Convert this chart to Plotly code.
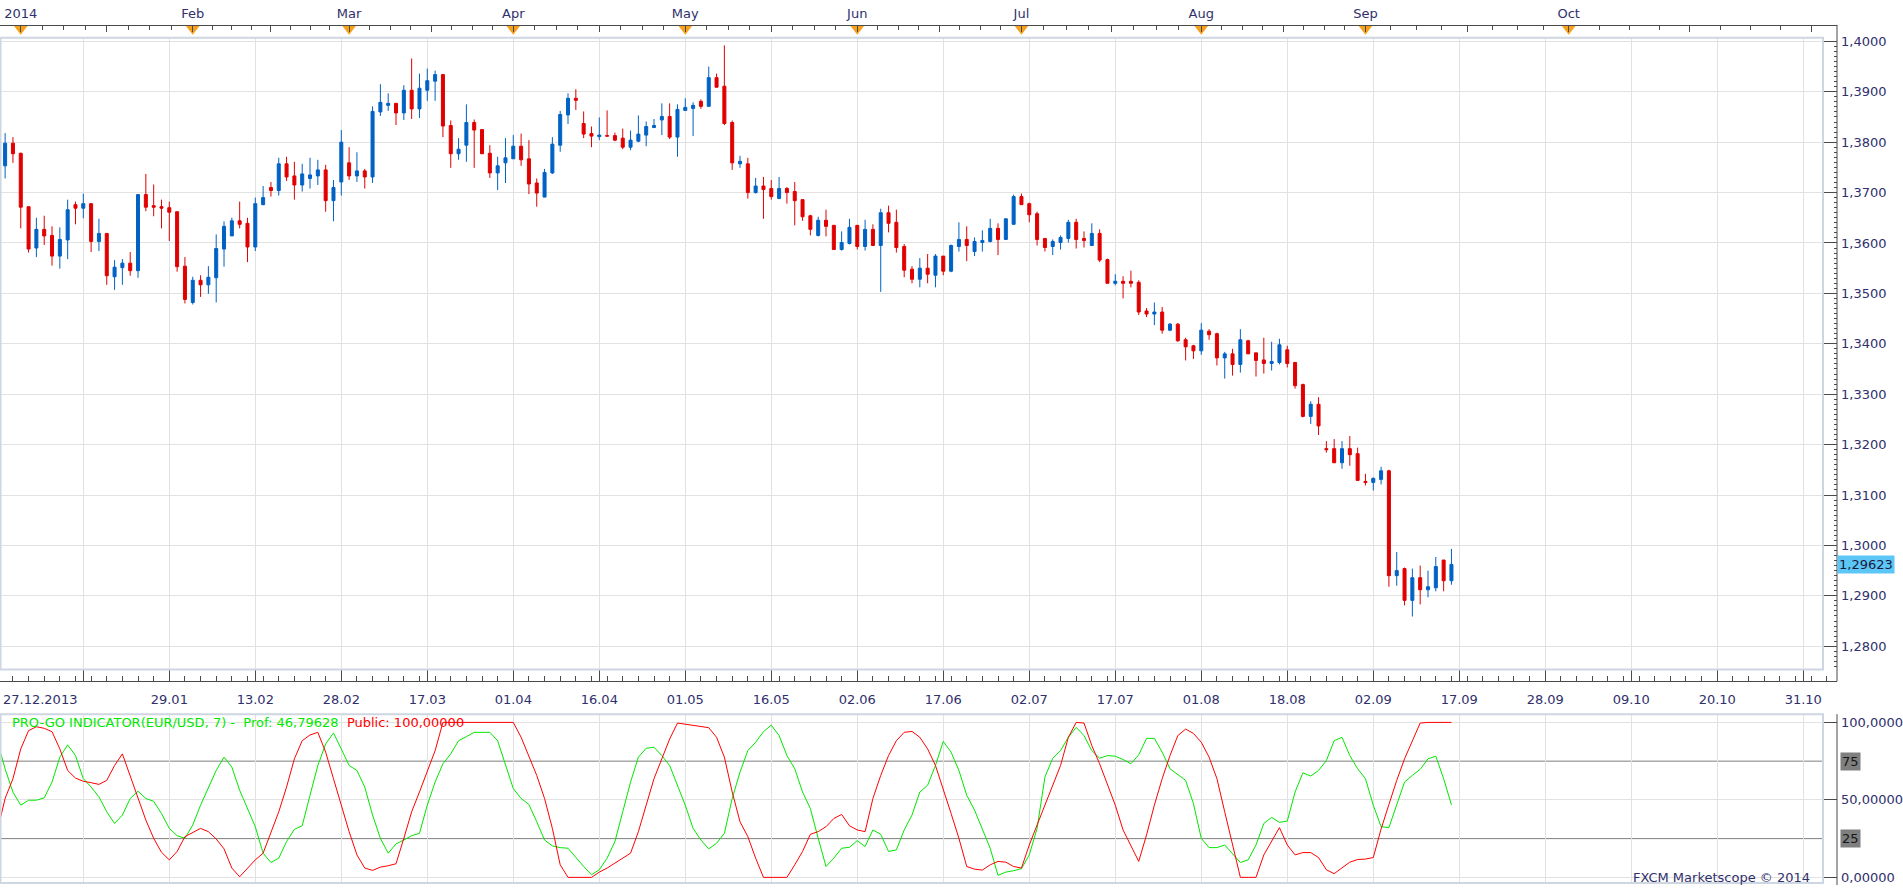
import plotly.graph_objects as go

W, H = 1903, 889

# ---------------- data ----------------
# bar index: 0 = 27.12.2013, one bar per weekday (1 Jan skipped)
bar_index = list(range(1, 187))
opens = [1.3753, 1.3798, 1.3778, 1.3672, 1.3590, 1.3627, 1.3615, 1.3574, 1.3606, 1.3676,
         1.3669, 1.3678, 1.3603, 1.3619, 1.3533, 1.3551, 1.3560, 1.3545, 1.3696, 1.3674,
         1.3672, 1.3670, 1.3662, 1.3554, 1.3482, 1.3526, 1.3517, 1.3531, 1.3588, 1.3614,
         1.3644, 1.3639, 1.3592, 1.3676, 1.3710, 1.3704, 1.3757, 1.3733, 1.3715, 1.3728,
         1.3733, 1.3745, 1.3684, 1.3721, 1.3759, 1.3733, 1.3743, 1.3731, 1.3860, 1.3873,
         1.3877, 1.3858, 1.3903, 1.3866, 1.3903, 1.3921, 1.3934, 1.3833, 1.3777, 1.3794,
         1.3839, 1.3825, 1.3778, 1.3739, 1.3759, 1.3767, 1.3792, 1.3767, 1.3719, 1.3691,
         1.3739, 1.3794, 1.3854, 1.3887, 1.3837, 1.3817, 1.3811, 1.3813, 1.3813, 1.3808,
         1.3790, 1.3802, 1.3814, 1.3829, 1.3844, 1.3851, 1.3810, 1.3863, 1.3867, 1.3881,
         1.3871, 1.3928, 1.3911, 1.3839, 1.3757, 1.3757, 1.3700, 1.3713, 1.3708, 1.3688,
         1.3708, 1.3702, 1.3686, 1.3654, 1.3615, 1.3645, 1.3635, 1.3587, 1.3599, 1.3635,
         1.3593, 1.3627, 1.3595, 1.3660, 1.3641, 1.3593, 1.3548, 1.3528, 1.3550, 1.3536,
         1.3574, 1.3544, 1.3593, 1.3607, 1.3583, 1.3601, 1.3603, 1.3629, 1.3607, 1.3637,
         1.3692, 1.3678, 1.3658, 1.3609, 1.3593, 1.3601, 1.3609, 1.3641, 1.3609, 1.3595,
         1.3619, 1.3567, 1.3520, 1.3524, 1.3524, 1.3522, 1.3465, 1.3459, 1.3463, 1.3427,
         1.3439, 1.3408, 1.3396, 1.3386, 1.3425, 1.3420, 1.3372, 1.3380, 1.3359, 1.3406,
         1.3382, 1.3368, 1.3361, 1.3363, 1.3388, 1.3363, 1.3319, 1.3256, 1.3280, 1.3192,
         1.3192, 1.3164, 1.3192, 1.3182, 1.3127, 1.3125, 1.3131, 1.3148, 1.2940, 1.2954,
         1.2891, 1.2936, 1.2912, 1.2916, 1.2971, 1.2930]
highs = [1.3818, 1.3810, 1.3779, 1.3672, 1.3650, 1.3654, 1.3633, 1.3631, 1.3686, 1.3682,
         1.3698, 1.3678, 1.3648, 1.3619, 1.3566, 1.3568, 1.3582, 1.3696, 1.3737, 1.3716,
         1.3686, 1.3682, 1.3662, 1.3572, 1.3533, 1.3536, 1.3554, 1.3617, 1.3643, 1.3650,
         1.3682, 1.3650, 1.3690, 1.3713, 1.3721, 1.3769, 1.3771, 1.3761, 1.3757, 1.3769,
         1.3765, 1.3755, 1.3725, 1.3824, 1.3790, 1.3780, 1.3747, 1.3871, 1.3915, 1.3897,
         1.3877, 1.3913, 1.3966, 1.3936, 1.3946, 1.3942, 1.3934, 1.3843, 1.3808, 1.3875,
         1.3845, 1.3825, 1.3794, 1.3771, 1.3808, 1.3814, 1.3817, 1.3804, 1.3728, 1.3747,
         1.3810, 1.3862, 1.3897, 1.3905, 1.3861, 1.3831, 1.3849, 1.3863, 1.3819, 1.3827,
         1.3823, 1.3853, 1.3841, 1.3846, 1.3877, 1.3877, 1.3875, 1.3887, 1.3879, 1.3885,
         1.3950, 1.3936, 1.3992, 1.3843, 1.3773, 1.3769, 1.3729, 1.3731, 1.3725, 1.3731,
         1.3711, 1.3721, 1.3686, 1.3656, 1.3652, 1.3666, 1.3635, 1.3623, 1.3648, 1.3635,
         1.3646, 1.3637, 1.3668, 1.3674, 1.3666, 1.3598, 1.3554, 1.3570, 1.3578, 1.3578,
         1.3574, 1.3597, 1.3641, 1.3633, 1.3611, 1.3625, 1.3648, 1.3639, 1.3648, 1.3696,
         1.3698, 1.3680, 1.3662, 1.3609, 1.3607, 1.3615, 1.3646, 1.3648, 1.3623, 1.3639,
         1.3627, 1.3569, 1.3538, 1.3534, 1.3545, 1.3526, 1.3471, 1.3482, 1.3473, 1.3441,
         1.3441, 1.3412, 1.3398, 1.3441, 1.3429, 1.3422, 1.3384, 1.3390, 1.3429, 1.3408,
         1.3382, 1.3412, 1.3404, 1.3410, 1.3396, 1.3363, 1.3321, 1.3286, 1.3294, 1.3207,
         1.3211, 1.3207, 1.3217, 1.3194, 1.3142, 1.3135, 1.3156, 1.3150, 1.2987, 1.2956,
         1.2954, 1.2960, 1.2950, 1.2977, 1.2971, 1.2993]
lows = [1.3728, 1.3759, 1.3629, 1.3581, 1.3572, 1.3596, 1.3555, 1.3549, 1.3568, 1.3637,
        1.3649, 1.3582, 1.3584, 1.3517, 1.3507, 1.3517, 1.3535, 1.3531, 1.3663, 1.3653,
        1.3629, 1.3604, 1.3543, 1.3480, 1.3478, 1.3493, 1.3499, 1.3482, 1.3553, 1.3614,
        1.3629, 1.3562, 1.3584, 1.3675, 1.3692, 1.3694, 1.3723, 1.3686, 1.3702, 1.3708,
        1.3715, 1.3662, 1.3643, 1.3694, 1.3725, 1.3721, 1.3708, 1.3719, 1.3852, 1.3862,
        1.3834, 1.3844, 1.3846, 1.3848, 1.3882, 1.3882, 1.3810, 1.3749, 1.3765, 1.3761,
        1.3749, 1.3777, 1.3729, 1.3705, 1.3719, 1.3767, 1.3753, 1.3697, 1.3672, 1.3691,
        1.3737, 1.3781, 1.3836, 1.3864, 1.3808, 1.3790, 1.3804, 1.3812, 1.3802, 1.3786,
        1.3784, 1.3800, 1.3792, 1.3828, 1.3814, 1.3806, 1.3771, 1.3863, 1.3812, 1.3866,
        1.3871, 1.3909, 1.3834, 1.3745, 1.3749, 1.3688, 1.3698, 1.3648, 1.3686, 1.3688,
        1.3678, 1.3635, 1.3644, 1.3615, 1.3613, 1.3613, 1.3587, 1.3585, 1.3597, 1.3587,
        1.3585, 1.3595, 1.3503, 1.3621, 1.3581, 1.3532, 1.3520, 1.3512, 1.3520, 1.3512,
        1.3536, 1.3542, 1.3583, 1.3564, 1.3574, 1.3583, 1.3601, 1.3576, 1.3607, 1.3637,
        1.3676, 1.3641, 1.3595, 1.3583, 1.3576, 1.3587, 1.3601, 1.3589, 1.3591, 1.3595,
        1.3562, 1.3520, 1.3516, 1.3490, 1.3512, 1.3457, 1.3453, 1.3437, 1.3420, 1.3425,
        1.3404, 1.3367, 1.3370, 1.3378, 1.3408, 1.3357, 1.3331, 1.3337, 1.3343, 1.3380,
        1.3335, 1.3341, 1.3347, 1.3359, 1.3353, 1.3311, 1.3254, 1.3241, 1.3219, 1.3184,
        1.3164, 1.3152, 1.3158, 1.3129, 1.3119, 1.3109, 1.3121, 1.2918, 1.2920, 1.2881,
        1.2859, 1.2883, 1.2897, 1.2909, 1.2909, 1.2922]
closes = [1.3798, 1.3777, 1.3671, 1.3588, 1.3627, 1.3614, 1.3574, 1.3607, 1.3666, 1.3669,
          1.3678, 1.3603, 1.3619, 1.3535, 1.3552, 1.3560, 1.3545, 1.3696, 1.3671, 1.3671,
          1.3669, 1.3661, 1.3553, 1.3488, 1.3526, 1.3517, 1.3532, 1.3589, 1.3633, 1.3644,
          1.3637, 1.3592, 1.3678, 1.3690, 1.3704, 1.3757, 1.3731, 1.3715, 1.3737, 1.3735,
          1.3745, 1.3684, 1.3710, 1.3800, 1.3733, 1.3743, 1.3731, 1.3861, 1.3879, 1.3877,
          1.3858, 1.3903, 1.3866, 1.3907, 1.3922, 1.3934, 1.3832, 1.3777, 1.3786, 1.3839,
          1.3824, 1.3777, 1.3739, 1.3753, 1.3769, 1.3792, 1.3765, 1.3717, 1.3699, 1.3740,
          1.3796, 1.3855, 1.3887, 1.3883, 1.3816, 1.3812, 1.3814, 1.3812, 1.3804, 1.3790,
          1.3804, 1.3816, 1.3831, 1.3833, 1.3851, 1.3810, 1.3865, 1.3869, 1.3873, 1.3871,
          1.3928, 1.3909, 1.3837, 1.3759, 1.3762, 1.3700, 1.3713, 1.3706, 1.3692, 1.3708,
          1.3700, 1.3684, 1.3652, 1.3627, 1.3645, 1.3633, 1.3587, 1.3601, 1.3631, 1.3593,
          1.3627, 1.3595, 1.3660, 1.3639, 1.3591, 1.3546, 1.3528, 1.3550, 1.3538, 1.3574,
          1.3544, 1.3595, 1.3607, 1.3595, 1.3603, 1.3605, 1.3629, 1.3607, 1.3648, 1.3692,
          1.3676, 1.3656, 1.3607, 1.3591, 1.3603, 1.3611, 1.3641, 1.3607, 1.3605, 1.3619,
          1.3566, 1.3520, 1.3524, 1.3520, 1.3520, 1.3463, 1.3459, 1.3463, 1.3427, 1.3439,
          1.3406, 1.3394, 1.3386, 1.3427, 1.3418, 1.3372, 1.3380, 1.3359, 1.3408, 1.3380,
          1.3367, 1.3361, 1.3365, 1.3398, 1.3361, 1.3317, 1.3256, 1.3280, 1.3237, 1.3190,
          1.3164, 1.3192, 1.3180, 1.3129, 1.3125, 1.3133, 1.3148, 1.2940, 1.2950, 1.2891,
          1.2936, 1.2912, 1.2918, 1.2958, 1.2930, 1.29623]

ind_index = list(range(0, 187))
prof = [88, 70, 55, 46.6, 49.8, 49.8, 51.3, 61.5, 77.6, 85.5,
        78.6, 63.7, 58.3, 52, 42.3, 34.8, 40.2, 50.9, 55.6, 50.9,
        49.1, 41.2, 31.6, 26.9, 25.2, 33.8, 46.6, 58.3, 69, 77.6,
        71.2, 56.2, 44.4, 32.7, 15.6, 9.6, 12.4, 23.1, 31, 33.3,
        53, 72.2, 86.1, 93.2, 82.9, 72.2, 69, 58.3, 40.2, 25.2,
        15.6, 21.6, 24.1, 26.9, 28.4, 46.6, 61.5, 73.3, 79.7, 88.2,
        90.8, 93.6, 93.6, 93.6, 88.2, 73.3, 57.3, 50.9, 47, 35.9,
        24.1, 20.3, 19.2, 18.8, 12.8, 7, 1.7, 4.9, 12.4, 23.1,
        42.3, 61.5, 77.6, 83.3, 84, 78.6, 72.2, 59.4, 46.6, 31.6,
        24.1, 18.4, 22, 28.4, 50.9, 67.9, 81.8, 87.2, 94, 98.3,
        91.5, 78.6, 70.1, 55.1, 44.4, 25.2, 7, 12.4, 18.8, 19.4,
        23.7, 19.9, 30.6, 27.8, 16.7, 17.7, 30.6, 40.2, 55.1, 59.4,
        72.2, 87.8, 80.8, 69, 53, 43.4, 30.6, 18.8, 1.3, 3.4,
        4.3, 5.6, 14.5, 31.6, 64.7, 76.9, 81.8, 90.4, 96.8, 91.5,
        81.8, 76.9, 78.6, 78.2, 76.1, 73.3, 79.1, 89.7, 89.7, 80.8,
        70.1, 66.2, 62.6, 47.6, 25.2, 19.2, 19.2, 20.9, 15.6, 9.6,
        11.3, 20.9, 34.8, 38.7, 35.5, 36.3, 55.1, 67.5, 65.4, 69,
        75.4, 88.2, 90.4, 78.6, 70.1, 63.7, 46.6, 32.7, 32.1, 46.6,
        61.5, 65.8, 69.7, 76.5, 78.2, 63.7, 46.79628]
public = [30, 50.9, 63.7, 82.9, 94.7, 97.2, 96.2, 94, 82.9, 69,
          64.1, 62, 61.1, 60, 62.6, 72.2, 79.7, 65.8, 50.9, 37,
          25.2, 16.2, 11.3, 16.7, 26.3, 29.1, 31.6, 29.5, 24.8, 18.4,
          6, 0.4, 5.6, 11.3, 15.6, 29.5, 42.3, 58.3, 76.5, 88.2,
          91.9, 93.6, 80.8, 63.7, 46.6, 29.5, 14.5, 6, 4.5, 6.6,
          7.5, 8.8, 25.2, 42.3, 55.1, 67.9, 81.8, 100, 100, 100,
          100, 100, 100, 100, 100, 100, 100, 90.4, 78.6, 65.8,
          50.9, 31.6, 8.1, 0, 0, 0, 0, 3.4, 6, 9.2,
          12.4, 15.6, 29.5, 46.6, 63.7, 76.5, 89.3, 99.6, 98.9, 97.9,
          97.4, 96.6, 90.4, 77.6, 55.1, 35.9, 26.3, 12.4, 0, 0,
          0, 0, 8.1, 16.7, 27.8, 29.5, 32.7, 38, 40.6, 33.3,
          30.6, 29.5, 50.9, 65.8, 78.6, 88.2, 93.6, 94.2, 90.4, 82.9,
          72.2, 57.3, 41.2, 25.2, 7, 5.3, 4.7, 8.1, 10.3, 9.8,
          7, 6, 20.9, 33.8, 46.6, 60.5, 72.2, 90.4, 100, 99.6,
          85, 73.3, 59.4, 46.6, 30.6, 20.9, 10.3, 27.4, 46.6, 63.7,
          78.6, 91.5, 95.7, 92.9, 87.2, 77.6, 63.7, 42.3, 20.9, 0,
          0, 0, 14.5, 23.1, 32.1, 20.9, 14.5, 16, 16, 12.8,
          4.9, 2.4, 6.4, 9.8, 11.5, 11.8, 12.8, 31.2, 47, 62.6,
          76.5, 87.6, 99.6, 100, 100, 100, 100]

price_ticks = [1.28, 1.29, 1.30, 1.31, 1.32, 1.33, 1.34, 1.35, 1.36, 1.37, 1.38, 1.39, 1.40]
price_labels = ["1,2800", "1,2900", "1,3000", "1,3100", "1,3200", "1,3300", "1,3400",
                "1,3500", "1,3600", "1,3700", "1,3800", "1,3900", "1,4000"]
grid_index = list(range(0, 232, 11))
date_tick_index = list(range(11, 232, 11))
date_tick_labels = ["", "29.01", "13.02", "28.02", "17.03", "01.04", "16.04", "01.05", "16.05",
                    "02.06", "17.06", "02.07", "17.07", "01.08", "18.08", "02.09", "17.09",
                    "28.09", "09.10", "20.10", "31.10"]
first_date_label = "27.12.2013"
month_bounds = [-18, 3, 25, 45, 66, 88, 110, 131, 154, 175, 201, 232, 262]
month_start_index = [3, 25, 45, 66, 88, 110, 131, 154, 175, 201]
month_labels = ["2014", "Feb", "Mar", "Apr", "May", "Jun", "Jul", "Aug", "Sep", "Oct"]
ind_ticks = [0, 50, 100]
ind_tick_labels = ["0,00000", "50,00000", "100,0000"]
ind_levels = [75, 25]
indicator_name = "PRO-GO INDICATOR(EUR/USD, 7)"
copyright_text = "FXCM Marketscope \u00a9 2014"

# ---------------- styling ----------------
BLUE = "#0062c4"
RED = "#e00000"
GRID = "#e2e2e2"
FRAME = "#cdd6e1"
AXIS = "#4a4a4a"
TXT = "#30306c"
GREEN_LINE = "#00e800"
RED_LINE = "#ff0000"
LEVEL = "#7f7f7f"
ORANGE = "#f7a11a"
PRICE_BOX = "#5cc6f6"
FONT = "DejaVu Sans"

BAR_PX = 7.818
X0_PX = -2.7
PLOT_R = 1823
AXIS_R = 1837


def ix(px):
    return (px - X0_PX) / BAR_PX


def py(p):
    return 1 - p / H


r0, r1, r1b = ix(0), ix(PLOT_R), ix(AXIS_R)

# price axis pixel calibration: 1.4000 at y=37.6, 50.75 px per 0.01
p_top = 1.40 + (37.6 - 34) / 5075
p_bot = 1.40 - (670 - 37.6) / 5075
# indicator calibration: 100 at y=723.3, 0 at y=879.3
v_top = (879.3 - 715) / 1.56
v_bot = (879.3 - 885) / 1.56

# top axis ticks: each month split in 8
label_map = dict(zip(month_start_index, month_labels))
top_major, top_major_text, top_minor = [], [], []
for a, b in zip(month_bounds[:-1], month_bounds[1:]):
    for k in range(8):
        v = a + k * (b - a) / 8
        if not (r0 <= v <= r1b):
            continue
        if k in (0, 4):
            top_major.append(v)
            top_major_text.append(label_map.get(a, "") if k == 0 else "")
        else:
            top_minor.append(v)

bottom_minor = [i for i in range(0, 236) if i % 11 != 0 and i % 2 == 0]

fig = go.Figure()
fig.add_trace(go.Candlestick(
    x=bar_index, open=opens, high=highs, low=lows, close=closes,
    xaxis="x", yaxis="y", whiskerwidth=0, showlegend=False, hoverinfo="skip",
    increasing=dict(line=dict(color=BLUE, width=1), fillcolor=BLUE),
    decreasing=dict(line=dict(color=RED, width=1), fillcolor=RED)))
fig.add_trace(go.Scatter(x=ind_index, y=prof, mode="lines", xaxis="x2", yaxis="y2",
                         line=dict(color=GREEN_LINE, width=1), showlegend=False, hoverinfo="skip"))
fig.add_trace(go.Scatter(x=ind_index, y=public, mode="lines", xaxis="x2", yaxis="y2",
                         line=dict(color=RED_LINE, width=1), showlegend=False, hoverinfo="skip"))
# month-start markers on the top band
fig.add_trace(go.Scatter(x=month_start_index, y=[0.67] * len(month_start_index), mode="markers",
                         xaxis="x5", yaxis="y5", cliponaxis=False,
                         marker=dict(symbol="triangle-down", size=12, color=ORANGE, line=dict(width=0)),
                         showlegend=False, hoverinfo="skip"))
# carrier for the date axis
fig.add_trace(go.Scatter(x=[None], y=[None], xaxis="x3", yaxis="y5", showlegend=False, hoverinfo="skip"))

tickfont = dict(family=FONT, size=13, color=TXT)

fig.update_layout(
    width=W, height=H, margin=dict(l=0, r=0, t=0, b=0),
    paper_bgcolor="white", plot_bgcolor="rgba(0,0,0,0)",
    showlegend=False, boxgap=0.45,
    xaxis=dict(domain=[0, PLOT_R / W], range=[r0, r1], anchor="y",
               tickmode="array", tickvals=grid_index, showticklabels=False, ticks="",
               showgrid=True, gridcolor=GRID, gridwidth=1, zeroline=False, showline=False,
               rangeslider=dict(visible=False), fixedrange=True),
    yaxis=dict(domain=[py(670), py(34)], range=[p_bot, p_top], anchor="free", position=AXIS_R / W,
               side="right", tickmode="array", tickvals=price_ticks, ticktext=price_labels,
               ticks="inside", ticklen=14, tickcolor=AXIS, tickwidth=1,
               showgrid=True, gridcolor=GRID, gridwidth=1, zeroline=False, showline=False,
               tickfont=tickfont, ticklabelstandoff=3,
               minor=dict(dtick=0.001, tick0=1.28, ticks="inside", ticklen=3, tickcolor=AXIS,
                          showgrid=False),
               fixedrange=True),
    xaxis2=dict(domain=[0, PLOT_R / W], range=[r0, r1], anchor="y2",
                tickmode="array", tickvals=grid_index, showticklabels=False, ticks="",
                showgrid=True, gridcolor=GRID, gridwidth=1, zeroline=False, showline=False,
                fixedrange=True),
    yaxis2=dict(domain=[py(885), py(715)], range=[v_bot, v_top], anchor="free", position=AXIS_R / W,
                side="right", tickmode="array", tickvals=ind_ticks, ticktext=ind_tick_labels,
                ticks="inside", ticklen=14, tickcolor=AXIS, tickwidth=1,
                showgrid=True, gridcolor=GRID, gridwidth=1, zeroline=False, showline=False,
                tickfont=tickfont, ticklabelstandoff=3, fixedrange=True),
    xaxis3=dict(domain=[0, AXIS_R / W], range=[r0, r1b], anchor="free", position=py(682),
                side="bottom", tickmode="array", tickvals=date_tick_index, ticktext=date_tick_labels,
                ticks="inside", ticklen=12, tickcolor=AXIS, tickwidth=1, tickangle=0,
                showline=True, linecolor=AXIS, linewidth=1, showgrid=False, zeroline=False,
                tickfont=tickfont, ticklabelstandoff=6,
                minor=dict(tickmode="array", tickvals=bottom_minor, ticks="inside", ticklen=5,
                           tickcolor=AXIS, showgrid=False),
                fixedrange=True),
    xaxis5=dict(domain=[0, AXIS_R / W], range=[r0, r1b], anchor="free", position=py(21),
                side="top", tickmode="array", tickvals=top_major, ticktext=top_major_text,
                ticks="inside", ticklen=6, tickcolor=AXIS, tickwidth=1, tickangle=0,
                showline=True, linecolor=AXIS, linewidth=1, showgrid=False, zeroline=False,
                tickfont=tickfont, ticklabelstandoff=2,
                minor=dict(tickmode="array", tickvals=top_minor, ticks="inside", ticklen=4,
                           tickcolor=AXIS, showgrid=False),
                fixedrange=True),
    yaxis5=dict(domain=[py(33), py(21)], range=[0, 1], anchor="x5", visible=False, fixedrange=True),
)

shapes = [
    # panel frames
    dict(type="rect", xref="paper", yref="paper", x0=0.5 / W, x1=PLOT_R / W, y0=py(670), y1=py(34),
         line=dict(color=FRAME, width=2), layer="above"),
    dict(type="rect", xref="paper", yref="paper", x0=0.5 / W, x1=PLOT_R / W, y0=py(885), y1=py(715),
         line=dict(color=FRAME, width=2), layer="above"),
    # right axis lines
    dict(type="line", xref="paper", yref="paper", x0=AXIS_R / W, x1=AXIS_R / W, y0=py(682), y1=py(21),
         line=dict(color=AXIS, width=1)),
    dict(type="line", xref="paper", yref="paper", x0=AXIS_R / W, x1=AXIS_R / W, y0=py(887), y1=py(715),
         line=dict(color=AXIS, width=1)),
]
for lv in ind_levels:
    shapes.append(dict(type="line", xref="paper", yref="y2", x0=0, x1=PLOT_R / W, y0=lv, y1=lv,
                       line=dict(color=LEVEL, width=1), layer="below"))
fig.update_layout(shapes=shapes)


def fmt(v, d):
    return f"{v:.{d}f}".replace(".", ",")


annotations = [
    dict(xref="paper", yref="paper", x=1 / W, y=py(700), xanchor="left", yanchor="middle",
         text=first_date_label, showarrow=False, font=tickfont),
    dict(xref="paper", yref="paper", x=10 / W, y=py(723), xanchor="left", yanchor="middle",
         showarrow=False, font=dict(family=FONT, size=13, color=GREEN_LINE),
         text=(f"{indicator_name} -&nbsp; Prof: {fmt(prof[-1], 5)}&nbsp; "
               f"<span style='color:{RED_LINE}'>Public: {fmt(public[-1], 5)}</span>")),
    dict(xref="paper", yref="paper", x=1812 / W, y=py(879), xanchor="right", yanchor="middle",
         text=copyright_text, showarrow=False, font=tickfont),
    dict(xref="paper", yref="y", x=AXIS_R / W, y=closes[-1], xanchor="left", yanchor="middle",
         text=fmt(closes[-1], 5), showarrow=False, bgcolor=PRICE_BOX, borderpad=1,
         font=dict(family=FONT, size=13, color="#1a1a40")),
]
for lv in ind_levels:
    annotations.append(dict(xref="paper", yref="y2", x=(AXIS_R + 3) / W, y=lv, xanchor="left",
                            yanchor="middle", text=str(lv), showarrow=False, bgcolor=LEVEL,
                            borderpad=1, font=dict(family=FONT, size=13, color="#151515")))
fig.update_layout(annotations=annotations)

fig.write_html("out.html")
